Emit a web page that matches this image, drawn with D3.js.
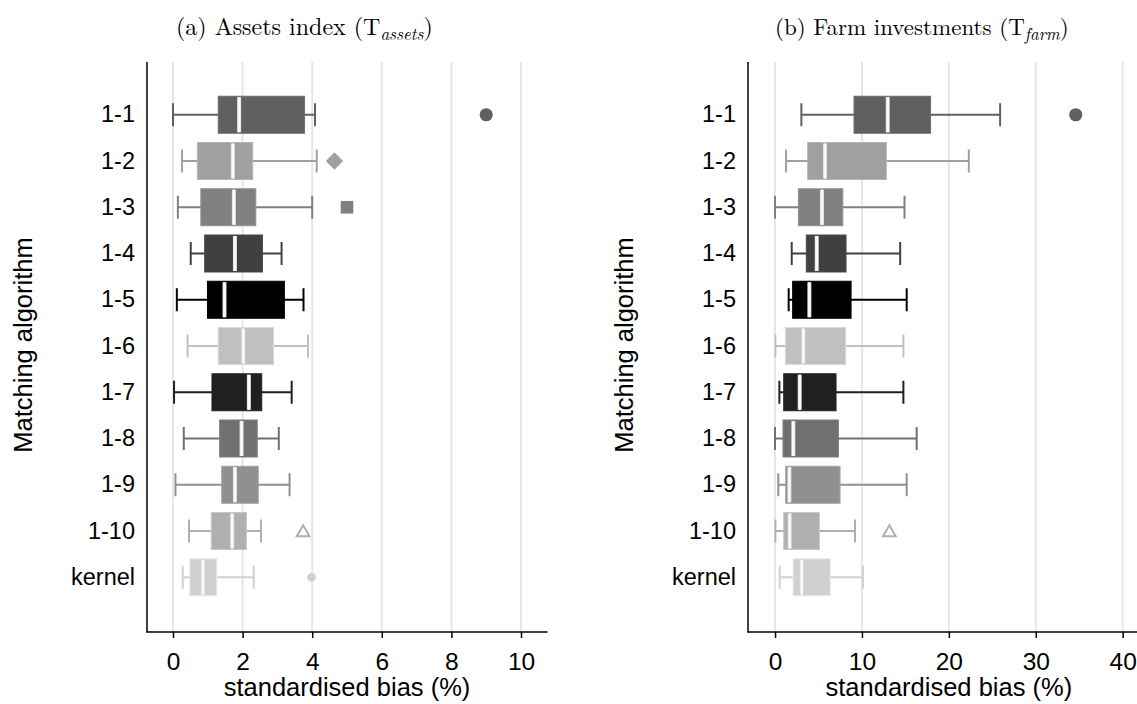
<!DOCTYPE html>
<html>
<head>
<meta charset="utf-8">
<script src="https://cdn.jsdelivr.net/npm/d3@7"></script>
<style>
  body { margin: 0; background: #fff; }
  svg { display: block; }
  .tick text { font-family: "Liberation Sans", Arial, sans-serif; }
</style>
</head>
<body>
<script>
// matching algorithms (rows, top to bottom)
const categories = ["1-1", "1-2", "1-3", "1-4", "1-5", "1-6", "1-7", "1-8", "1-9", "1-10", "kernel"];
const greys = ["#606060", "#a0a0a0", "#808080", "#404040", "#000000", "#c0c0c0", "#202020", "#707070", "#909090", "#b0b0b0", "#d0d0d0"];

// (a) assets index
const assetsLow = [0.0, 0.26, 0.14, 0.51, 0.11, 0.42, 0.03, 0.31, 0.07, 0.46, 0.28];
const assetsQ1 = [1.30, 0.70, 0.80, 0.91, 0.99, 1.30, 1.12, 1.34, 1.40, 1.10, 0.48];
const assetsMed = [1.90, 1.72, 1.75, 1.78, 1.48, 2.02, 2.18, 1.97, 1.78, 1.70, 0.86];
const assetsQ3 = [3.78, 2.29, 2.38, 2.57, 3.20, 2.89, 2.55, 2.42, 2.45, 2.11, 1.26];
const assetsHigh = [4.08, 4.13, 4.00, 3.12, 3.75, 3.88, 3.41, 3.04, 3.35, 2.53, 2.32];
const assetsOut = [
  {cat: "1-1", value: 9.0, shape: "circle"},
  {cat: "1-2", value: 4.64, shape: "diamond"},
  {cat: "1-3", value: 5.0, shape: "square"},
  {cat: "1-10", value: 3.74, shape: "triangle"},
  {cat: "kernel", value: 3.98, shape: "dot"}
];
const assetsTicks = [0, 2, 4, 6, 8, 10];

// (b) farm investments
const farmLow = [3.03, 1.27, 0.0, 1.92, 1.57, 0.04, 0.50, 0.0, 0.38, 0.04, 0.54];
const farmQ1 = [9.09, 3.76, 2.69, 3.60, 2.03, 1.19, 1.00, 0.92, 1.23, 1.00, 2.07];
const farmMed = [12.97, 5.75, 5.40, 4.80, 3.95, 3.26, 2.84, 2.10, 1.65, 1.69, 3.07];
const farmQ3 = [17.9, 12.8, 7.8, 8.17, 8.75, 8.13, 7.02, 7.29, 7.48, 5.10, 6.36];
const farmHigh = [25.9, 22.3, 14.9, 14.4, 15.15, 14.77, 14.77, 16.3, 15.15, 9.2, 10.13];
const farmOut = [
  {cat: "1-1", value: 34.6, shape: "circle"},
  {cat: "1-10", value: 13.16, shape: "triangle"}
];
const farmTicks = [0, 10, 20, 30, 40];

const W = 1137, H = 704;
const svg = d3.select("body").append("svg").attr("width", W).attr("height", H);
const sans = '"Liberation Sans", Arial, sans-serif';
const serif = '"Latin Modern Roman", "DejaVu Serif", "Liberation Serif", serif';

const drawPanel = (opt) => {
  const top = 62, bottom = 632;
  const x = d3.scaleLinear().domain(opt.domain).range([opt.left, opt.right]);
  const y = d3.scaleBand().domain(categories).range([top + 25, bottom - 27]).padding(0.2);
  const color = d3.scaleOrdinal(categories, greys);
  const g = svg.append("g");

  // gridlines
  g.append("g").selectAll("line").data(opt.ticks).join("line")
    .attr("x1", d => x(d)).attr("x2", d => x(d))
    .attr("y1", top).attr("y2", bottom)
    .attr("stroke", "#e6e6e6").attr("stroke-width", 2);

  const rows = categories.map((c, i) => ({
    cat: c, low: opt.low[i], q1: opt.q1[i], med: opt.med[i], q3: opt.q3[i], high: opt.high[i]
  }));
  const row = g.append("g").selectAll("g").data(rows).join("g")
    .attr("transform", d => `translate(0,${y(d.cat)})`);
  const bh = y.bandwidth(), cy = bh / 2, cap = 23;

  row.append("line")
    .attr("x1", d => x(d.low)).attr("x2", d => x(d.high))
    .attr("y1", cy).attr("y2", cy)
    .attr("stroke", d => color(d.cat)).attr("stroke-width", 2);
  row.selectAll(".cap").data(d => [[d.low, d.cat], [d.high, d.cat]]).join("line")
    .attr("class", "cap")
    .attr("x1", d => x(d[0])).attr("x2", d => x(d[0]))
    .attr("y1", cy - cap / 2).attr("y2", cy + cap / 2)
    .attr("stroke", d => color(d[1])).attr("stroke-width", 2);
  row.append("rect")
    .attr("x", d => x(d.q1)).attr("width", d => x(d.q3) - x(d.q1))
    .attr("y", 0).attr("height", bh)
    .attr("fill", d => color(d.cat))
    .attr("stroke", d => d3.color(color(d.cat)).brighter(0.35)).attr("stroke-width", 1);
  row.append("line")
    .attr("x1", d => x(d.med)).attr("x2", d => x(d.med))
    .attr("y1", 1).attr("y2", bh - 1)
    .attr("stroke", "#dcdcdc").attr("stroke-width", 4);
  row.append("line")
    .attr("x1", d => x(d.med)).attr("x2", d => x(d.med))
    .attr("y1", 1).attr("y2", bh - 1)
    .attr("stroke", "#fafafa").attr("stroke-width", 2.5);

  // outside values
  const sym = {
    circle: d3.symbol(d3.symbolCircle, 135),
    dot: d3.symbol(d3.symbolCircle, 60),
    diamond: d3.symbol(d3.symbolSquare, 150),
    square: d3.symbol(d3.symbolSquare, 160),
    triangle: d3.symbol(d3.symbolTriangle, 70)
  };
  g.append("g").selectAll("path").data(opt.out).join("path")
    .attr("d", d => sym[d.shape]())
    .attr("transform", d => `translate(${x(d.value)},${y(d.cat) + cy + (d.shape === "triangle" ? 1.5 : 0)})` + (d.shape === "diamond" ? " rotate(45)" : ""))
    .attr("fill", d => d.shape === "triangle" ? "none" : color(d.cat))
    .attr("stroke", d => d.shape === "triangle" ? color(d.cat) : "none")
    .attr("stroke-width", 2);

  // axes
  const xAxis = g.append("g").attr("transform", `translate(0,${bottom})`)
    .call(d3.axisBottom(x).tickValues(opt.ticks).tickSize(6).tickPadding(15));
  xAxis.select(".domain").attr("d", `M${opt.left - 0.5},0H${opt.right + 0.5}`).attr("stroke", "#000").attr("stroke-width", 1.5);
  xAxis.selectAll(".tick line").attr("stroke-width", 1.5);
  xAxis.selectAll("text").attr("font-size", 24.5).attr("fill", "#000");

  const yAxis = g.append("g").attr("transform", `translate(${opt.left},0)`)
    .call(d3.axisLeft(y).tickSize(0).tickPadding(12));
  yAxis.select(".domain").attr("d", `M0,${top}V${bottom + 0.5}`).attr("stroke", "#000").attr("stroke-width", 1.5);
  yAxis.selectAll("text").attr("font-size", 23.5).attr("fill", "#000");

  g.append("text")
    .attr("x", x((opt.ticks[0] + opt.ticks[opt.ticks.length - 1]) / 2)).attr("y", 696)
    .attr("text-anchor", "middle")
    .attr("font-family", sans).attr("font-size", 25.5)
    .text("standardised bias (%)");
  g.append("text")
    .attr("transform", `translate(${opt.left - 115},345) rotate(-90)`)
    .attr("text-anchor", "middle")
    .attr("font-family", sans).attr("font-size", 25.5)
    .text("Matching algorithm");

  const t = g.append("text")
    .attr("x", opt.titleX).attr("y", 35)
    .attr("font-family", serif).attr("font-size", opt.titleSize);
  t.append("tspan").text(opt.title + " (T");
  t.append("tspan").attr("dy", 5).attr("font-size", 17).attr("font-style", "italic").text(opt.sub);
  t.append("tspan").attr("dy", -5).text(")");
};

drawPanel({
  left: 147, right: 547, domain: [-0.747, 10.747], ticks: assetsTicks,
  low: assetsLow, q1: assetsQ1, med: assetsMed, q3: assetsQ3, high: assetsHigh, out: assetsOut,
  title: "(a) Assets index", sub: "assets", titleX: 176, titleSize: 24
});
drawPanel({
  left: 748, right: 1137, domain: [-3.11, 41.65], ticks: farmTicks,
  low: farmLow, q1: farmQ1, med: farmMed, q3: farmQ3, high: farmHigh, out: farmOut,
  title: "(b) Farm investments", sub: "farm", titleX: 775, titleSize: 23
});
</script>
</body>
</html>
